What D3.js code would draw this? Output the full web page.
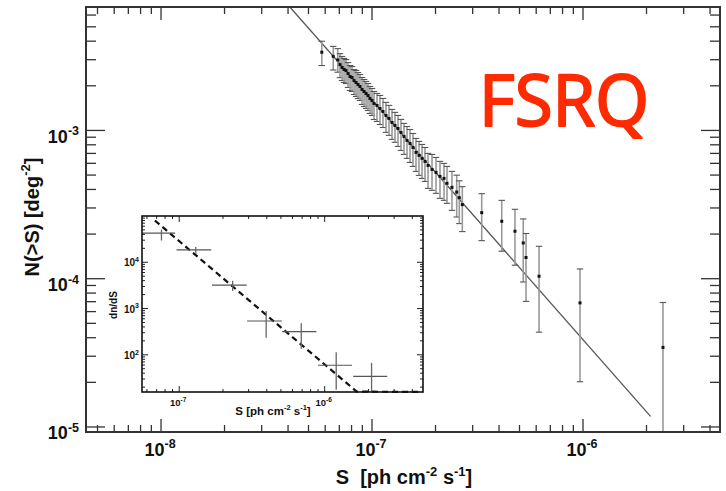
<!DOCTYPE html>
<html><head><meta charset="utf-8">
<script src="https://cdn.jsdelivr.net/npm/d3@7"></script>
<style>body{margin:0;background:#fff}svg{display:block}</style>
</head><body>
<svg id="c" width="726" height="491"></svg>
<script>
// ---------- main N(>S) data ----------
const mainS = [5.78e-8, 6.55e-8, 6.88e-8, 7.05e-8, 7.21e-8, 7.37e-8, 7.53e-8, 7.70e-8, 7.87e-8, 8.04e-8,
  8.22e-8, 8.40e-8, 8.58e-8, 8.77e-8, 8.97e-8, 9.17e-8, 9.37e-8, 9.57e-8, 9.78e-8, 1.00e-7,
  1.022e-7, 1.056e-7, 1.091e-7, 1.127e-7, 1.165e-7, 1.204e-7, 1.244e-7, 1.285e-7, 1.328e-7, 1.372e-7,
  1.418e-7, 1.465e-7, 1.514e-7, 1.564e-7, 1.616e-7, 1.670e-7, 1.726e-7, 1.783e-7, 1.843e-7, 1.925e-7,
  2.011e-7, 2.10e-7, 2.194e-7, 2.267e-7, 2.393e-7, 2.52e-7, 2.593e-7, 2.679e-7, 3.311e-7, 4.12e-7,
  4.76e-7, 5.21e-7, 5.37e-7, 6.19e-7, 9.68e-7, 2.394e-6];
const mainN = [3.37e-3, 3.16e-3, 2.99e-3, 2.78e-3, 2.66e-3, 2.58e-3, 2.535e-3, 2.42e-3, 2.31e-3, 2.275e-3,
  2.17e-3, 2.105e-3, 2.04e-3, 1.978e-3, 1.889e-3, 1.83e-3, 1.775e-3, 1.72e-3, 1.643e-3, 1.592e-3,
  1.52e-3, 1.474e-3, 1.406e-3, 1.342e-3, 1.262e-3, 1.205e-3, 1.132e-3, 1.081e-3, 1.031e-3, 9.69e-4,
  9.11e-4, 8.56e-4, 8.17e-4, 7.68e-4, 7.11e-4, 6.79e-4, 6.48e-4, 6.18e-4, 5.81e-4, 5.46e-4,
  5.21e-4, 4.90e-4, 4.75e-4, 4.40e-4, 4.13e-4, 3.84e-4, 3.52e-4, 3.16e-4, 2.79e-4, 2.44e-4,
  2.09e-4, 1.742e-4, 1.39e-4, 1.039e-4, 6.87e-5, 3.44e-5];
// error bar half-lengths in dex (log10 units)
const mainErrUp = [0.074, 0.067, 0.076, 0.074, 0.074, 0.074, 0.074, 0.074, 0.074, 0.074,
  0.074, 0.081, 0.081, 0.081, 0.081, 0.081, 0.081, 0.081, 0.081, 0.081,
  0.081, 0.081, 0.088, 0.088, 0.088, 0.088, 0.088, 0.088, 0.088, 0.088,
  0.088, 0.094, 0.094, 0.094, 0.094, 0.094, 0.094, 0.094, 0.081, 0.101,
  0.101, 0.101, 0.101, 0.114, 0.108, 0.114, 0.114, 0.121, 0.128, 0.141,
  0.148, 0.162, 0.162, 0.202, 0.229, 0.303];
const mainErrDn = [0.090, 0.092, 0.083, 0.088, 0.088, 0.088, 0.088, 0.094, 0.094, 0.094,
  0.094, 0.094, 0.094, 0.094, 0.101, 0.101, 0.101, 0.101, 0.101, 0.101,
  0.108, 0.108, 0.108, 0.108, 0.114, 0.114, 0.114, 0.114, 0.121, 0.121,
  0.121, 0.121, 0.128, 0.128, 0.128, 0.135, 0.135, 0.135, 0.155, 0.141,
  0.141, 0.148, 0.148, 0.135, 0.155, 0.168, 0.175, 0.182, 0.189, 0.202,
  0.229, 0.263, 0.296, 0.377, 0.532, 0.808];
// power-law fit line
const fitS = [4.08e-8, 2.09e-6];
const fitN = [6.8e-3, 1.18e-5];

// tick labels (exponents)
const xTickExp = ["-8", "-7", "-6"];
const yTickExp = ["-5", "-4", "-3"];

// ---------- inset dn/dS data ----------
const insS   = [7.55e-8, 1.30e-7, 2.33e-7, 3.96e-7, 6.9e-7, 1.2e-6, 2.1e-6];
const insSlo = [5.55e-8, 9.58e-8, 1.68e-7, 2.93e-7, 5.1e-7, 9.0e-7, 1.57e-6];
const insShi = [9.38e-8, 1.66e-7, 2.91e-7, 5.08e-7, 8.77e-7, 1.54e-6, 2.69e-6];
const insV   = [4.27e4, 1.85e4, 3.21e3, 537, 316, 59.4, 34.3];
const insVlo = [2.95e4, 1.51e4, 2.41e3, 234, 135, 17.6, 15.9];
const insVhi = [5.1e4, 2.15e4, 3.98e3, 887, 479, 114, 67];
const insFitS = [6.8e-8, 1.66e-6, 4.7e-6];
const insFitV = [8.0e4, 16, 1.0];
const insXTickExp = ["-7", "-6"];
const insYTickExp = ["2", "3", "4"];

// ---------- drawing ----------
const svg = d3.select("#c");
const FONT = "'Liberation Sans', Arial, Helvetica, sans-serif";
svg.append("rect").attr("width", 726).attr("height", 491).attr("fill", "#fff");

const M = {l: 86, r: 720, t: 7, b: 432};
const x = d3.scaleLog().domain([4.41e-9, 4.46e-6]).range([M.l, M.r]);
const y = d3.scaleLog().domain([9.25e-6, 6.8e-3]).range([M.b, M.t]);

const defs = svg.append("defs");
defs.append("clipPath").attr("id", "clipMain").append("rect")
  .attr("x", M.l).attr("y", M.t).attr("width", M.r - M.l).attr("height", M.b - M.t);

const isMajor = v => Math.abs(Math.log10(v) - Math.round(Math.log10(v))) < 1e-6;

function drawTicks(g, xs, ys, box, lx, ly, col, w) {
  xs.ticks().forEach(v => {
    const px = xs(v);
    if (px < box.l + 0.5 || px > box.r - 0.5) return;
    const L = isMajor(v) ? lx[1] : lx[0];
    g.append("line").attr("x1", px).attr("x2", px).attr("y1", box.b).attr("y2", box.b - L)
      .attr("stroke", col).attr("stroke-width", w);
    g.append("line").attr("x1", px).attr("x2", px).attr("y1", box.t).attr("y2", box.t + L)
      .attr("stroke", col).attr("stroke-width", w);
  });
  ys.ticks().forEach(v => {
    const py = ys(v);
    if (py < box.t + 0.5 || py > box.b - 0.5) return;
    const L = isMajor(v) ? ly[1] : ly[0];
    g.append("line").attr("y1", py).attr("y2", py).attr("x1", box.l).attr("x2", box.l + L)
      .attr("stroke", col).attr("stroke-width", w);
    g.append("line").attr("y1", py).attr("y2", py).attr("x1", box.r).attr("x2", box.r - L)
      .attr("stroke", col).attr("stroke-width", w);
  });
}

function powLabel(g, px, py, exp, size, supSize, anchor) {
  const t = g.append("text").attr("x", px).attr("y", py).attr("text-anchor", anchor)
    .attr("font-family", FONT).attr("font-weight", "bold").attr("font-size", size).attr("fill", "#111");
  t.append("tspan").text("10");
  t.append("tspan").attr("dy", -size * 0.42).attr("font-size", supSize).text(exp);
  return t;
}

function rich(t, parts, size, supSize) {
  let up = false;
  parts.forEach(p => {
    const s = t.append("tspan").text(p.t);
    if (p.sup) { s.attr("dy", -size * 0.42).attr("font-size", supSize); up = true; }
    else { s.attr("font-size", size); if (up) { s.attr("dy", size * 0.42); up = false; } }
  });
}

// main plot content
const gMain = svg.append("g");
drawTicks(gMain, x, y, M, [7, 13], [10, 19], "#333", 1.3);

const gData = gMain.append("g").attr("clip-path", "url(#clipMain)");
gData.append("path")
  .attr("d", d3.line().x(d => x(d[0])).y(d => y(d[1]))(fitS.map((s, i) => [s, fitN[i]])))
  .attr("fill", "none").attr("stroke", "#555").attr("stroke-width", 1.3);
mainS.forEach((s, i) => {
  const px = x(s);
  const yT = y(mainN[i] * Math.pow(10, mainErrUp[i]));
  const yB = y(mainN[i] / Math.pow(10, mainErrDn[i]));
  gData.append("line").attr("x1", px).attr("x2", px).attr("y1", yT).attr("y2", yB)
    .attr("stroke", "#999").attr("stroke-width", 1.6);
  [yT, yB].forEach(yy => gData.append("line").attr("x1", px - 3.2).attr("x2", px + 3.2)
    .attr("y1", yy).attr("y2", yy).attr("stroke", "#555").attr("stroke-width", 1.1));
});
mainS.forEach((s, i) => {
  gData.append("rect").attr("x", x(s) - 1.5).attr("y", y(mainN[i]) - 1.5)
    .attr("width", 3).attr("height", 3).attr("fill", "#111");
});

gMain.append("rect").attr("x", M.l).attr("y", M.t).attr("width", M.r - M.l).attr("height", M.b - M.t)
  .attr("fill", "none").attr("stroke", "#333").attr("stroke-width", 2);

xTickExp.forEach(e => powLabel(gMain, x(Math.pow(10, +e)) - 1, 456, e, 18, 12.5, "middle"));
yTickExp.forEach(e => powLabel(gMain, 79, y(Math.pow(10, +e)) + 12.5, e, 18, 12.5, "end"));

const xt = gMain.append("text").attr("x", 404).attr("y", 484).attr("text-anchor", "middle")
  .attr("font-family", FONT).attr("font-weight", "bold").attr("fill", "#111").style("white-space", "pre");
rich(xt, [{t: "S  [ph cm"}, {t: "-2", sup: true}, {t: " s"}, {t: "-1", sup: true}, {t: "]"}], 20, 13);
const yt = gMain.append("text").attr("transform", "translate(38.5,217) rotate(-90)").attr("text-anchor", "middle")
  .attr("font-family", FONT).attr("font-weight", "bold").attr("fill", "#111").style("white-space", "pre");
rich(yt, [{t: "N(>S) [deg"}, {t: "-2", sup: true}, {t: "]"}], 20, 13);

// FSRQ label
svg.append("text").attr("x", 479).attr("y", 126).attr("textLength", 170).attr("lengthAdjust", "spacingAndGlyphs")
  .attr("font-family", "'Comic Sans MS', 'Open Sans', 'Noto Sans', sans-serif").attr("font-size", 72)
  .attr("fill", "#ff2a00").attr("stroke", "#ff2a00").attr("stroke-width", 2.2).attr("stroke-linejoin", "round")
  .text("FSRQ");

// ---------- inset ----------
const I = {l: 142, r: 423, t: 216, b: 392};
const ix = d3.scaleLog().domain([5.55e-8, 4.74e-6]).range([I.l, I.r]);
const iy = d3.scaleLog().domain([15.7, 1e5]).range([I.b, I.t]).clamp(true);
defs.append("clipPath").attr("id", "clipIns").append("rect")
  .attr("x", I.l).attr("y", I.t - 1).attr("width", I.r - I.l).attr("height", I.b - I.t + 2);
const gIns = svg.append("g");
gIns.append("rect").attr("x", I.l).attr("y", I.t).attr("width", I.r - I.l).attr("height", I.b - I.t).attr("fill", "#fff");
drawTicks(gIns, ix, iy, I, [3, 6], [3, 6], "#222", 1);
const gID = gIns.append("g").attr("clip-path", "url(#clipIns)");
gID.append("path")
  .attr("d", d3.line().x(d => ix(d[0])).y(d => iy(d[1]))(insFitS.map((s, i) => [s, insFitV[i]])))
  .attr("fill", "none").attr("stroke", "#111").attr("stroke-width", 2.2).attr("stroke-dasharray", "6,4");
insS.forEach((s, i) => {
  const px = ix(s), py = iy(insV[i]);
  gID.append("line").attr("x1", ix(insSlo[i])).attr("x2", ix(insShi[i])).attr("y1", py).attr("y2", py)
    .attr("stroke", "#555").attr("stroke-width", 1.2);
  gID.append("line").attr("x1", px).attr("x2", px).attr("y1", iy(insVhi[i])).attr("y2", iy(insVlo[i]))
    .attr("stroke", "#666").attr("stroke-width", 1.3);
});
gIns.append("rect").attr("x", I.l).attr("y", I.t).attr("width", I.r - I.l).attr("height", I.b - I.t)
  .attr("fill", "none").attr("stroke", "#111").attr("stroke-width", 1.6);
insXTickExp.forEach(e => powLabel(gIns, ix(Math.pow(10, +e)) - 1, 406, e, 9.5, 6.5, "middle"));
insYTickExp.forEach(e => powLabel(gIns, 139, iy(Math.pow(10, +e)) + 4, e, 10, 7, "end"));
const ixt = gIns.append("text").attr("x", 273).attr("y", 415).attr("text-anchor", "middle")
  .attr("font-family", FONT).attr("font-weight", "bold").attr("fill", "#111").style("white-space", "pre");
rich(ixt, [{t: "S [ph cm"}, {t: "-2", sup: true}, {t: " s"}, {t: "-1", sup: true}, {t: "]"}], 11.5, 7.5);
gIns.append("text").attr("transform", "translate(117,305) rotate(-90)").attr("text-anchor", "middle")
  .attr("font-family", FONT).attr("font-weight", "bold").attr("font-size", 10).attr("fill", "#111").text("dn/dS");
</script>
</body></html>
